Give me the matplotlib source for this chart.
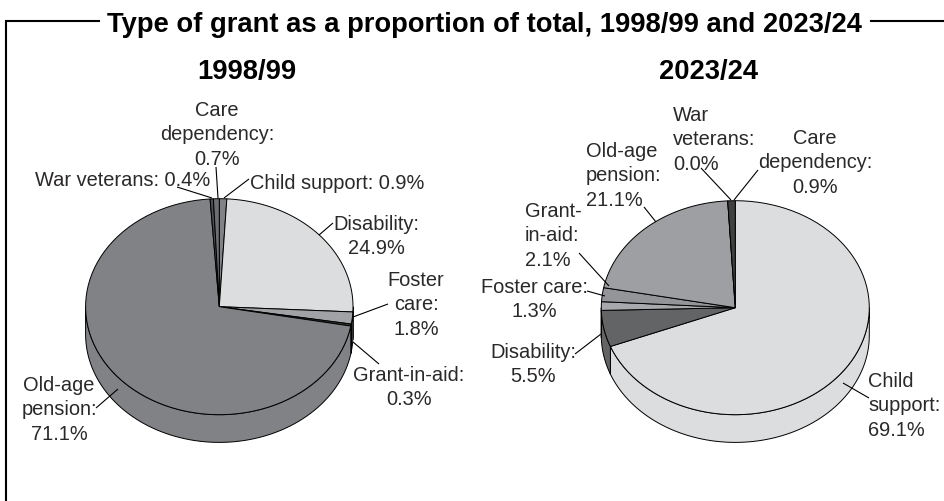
import numpy as np
import matplotlib
matplotlib.use("Agg")
import matplotlib.pyplot as plt

plt.rcParams['font.family'] = ['Liberation Sans', 'DejaVu Sans']

# slices run clockwise from 12 o'clock
names_9899 = ["Child support", "Disability", "Foster care", "Grant-in-aid", "Old-age pension", "War veterans", "Care dependency"]
values_9899 = [0.9, 24.9, 1.8, 0.3, 71.1, 0.4, 0.7]
colors_9899 = ['#808285', '#dcddde', '#a0a2a5', '#3a3a3c', '#808285', '#4d4d4f', '#6d6e71']

names_2324 = ["Child support", "Disability", "Foster care", "Grant-in-aid", "Old-age pension", "War veterans", "Care dependency"]
values_2324 = [69.1, 5.5, 1.3, 2.1, 21.1, 0.0, 0.9]
colors_2324 = ['#dcddde', '#636466', '#a7a9ac', '#939598', '#9d9fa2', '#58595b', '#404041']

TEXT = '#2b2829'
FS = 14.45
FS_HEAD = 19.7


def ellipse(cx, cy, rx, ry, a0, a1, n=80):
    # angles in degrees clockwise from the top, y axis points down
    t = np.radians(np.linspace(a0, a1, n))
    return cx + rx * np.sin(t), cy - ry * np.cos(t)


def pie3d(ax, values, colors, cx, cy, rx, ry, depth):
    total = sum(values)
    edges = np.concatenate([[0], np.cumsum(values)]) / total * 360
    # side wall, only the front half can be seen
    for a0, a1, col in zip(edges[:-1], edges[1:], colors):
        lo, hi = max(a0, 90), min(a1, 270)
        if hi <= lo:
            continue
        x, y = ellipse(cx, cy, rx, ry, lo, hi)
        ax.fill(np.r_[x, x[::-1]], np.r_[y, y[::-1] + depth], fc=col, ec='black', lw=0.7, zorder=2)
    # top face
    for a0, a1, col in zip(edges[:-1], edges[1:], colors):
        x, y = ellipse(cx, cy, rx, ry, a0, a1)
        ax.fill(np.r_[cx, x], np.r_[cy, y], fc=col, ec='black', lw=0.7, zorder=3)


def label(ax, x, y, lines, ha='center', step=24.4):
    for i, s in enumerate(lines):
        ax.text(x, y + i * step, s, ha=ha, va='baseline', fontsize=FS, color=TEXT, zorder=5)


def leaders(ax, segs):
    for x0, y0, x1, y1 in segs:
        ax.plot([x0, x1], [y0, y1], color='black', lw=0.8, zorder=4, solid_capstyle='butt')


fig = plt.figure(figsize=(9.44, 5.01), dpi=100)
ax = fig.add_axes([0, 0, 1, 1])
ax.set_xlim(0, 944)
ax.set_ylim(501, 0)
ax.axis('off')

# frame
ax.plot([99, 6, 6], [21, 21, 501], color='black', lw=1.5, solid_joinstyle='miter')
ax.plot([871, 944], [21, 21], color='black', lw=1.5)

ax.text(484.5, 32, "Type of grant as a proportion of total, 1998/99 and 2023/24", ha='center', va='baseline',
        fontsize=FS_HEAD, fontweight='bold', color='black')
ax.text(247, 79, "1998/99", ha='center', va='baseline', fontsize=FS_HEAD, fontweight='bold', color='black')
ax.text(709, 79, "2023/24", ha='center', va='baseline', fontsize=FS_HEAD, fontweight='bold', color='black')

pie3d(ax, values_9899, colors_9899, 219.3, 306.7, 133.7, 108, 27.7)
pie3d(ax, values_2324, colors_2324, 735.3, 307.7, 134, 107, 27.7)

label(ax, 217, 116, ["Care", "dependency:", "0.7%"])
label(ax, 35, 186, ["War veterans: 0.4%"], ha='left')
label(ax, 250, 189, ["Child support: 0.9%"], ha='left')
label(ax, 376, 230, ["Disability:", "24.9%"], step=23.5)
label(ax, 416, 286, ["Foster", "care:", "1.8%"])
label(ax, 409, 381, ["Grant-in-aid:", "0.3%"])
label(ax, 59, 391, ["Old-age", "pension:", "71.1%"])

label(ax, 673, 121, ["War", "veterans:", "0.0%"], ha='left')
label(ax, 815, 144, ["Care", "dependency:", "0.9%"])
label(ax, 586, 157, ["Old-age", "pension:", "21.1%"], ha='left')
label(ax, 525, 217, ["Grant-", "in-aid:", "2.1%"], ha='left')
label(ax, 534, 293, ["Foster care:", "1.3%"])
label(ax, 533, 358, ["Disability:", "5.5%"])
label(ax, 868, 387, ["Child", "support:", "69.1%"], ha='left')

leaders(ax, [
    (177, 187, 212, 198), (216, 167, 218, 198), (249, 179, 224, 198), (333, 223, 319, 235),
    (388, 304, 353, 317), (379, 364, 353, 342), (96, 408, 118, 389),
    (701, 168, 731, 200), (758, 170, 734, 200), (644, 207, 656, 222), (579, 253, 609, 286),
    (587, 291, 605, 296), (575, 354, 601, 334), (869, 398, 843, 383),
])

plt.savefig('out.png', dpi=100)
